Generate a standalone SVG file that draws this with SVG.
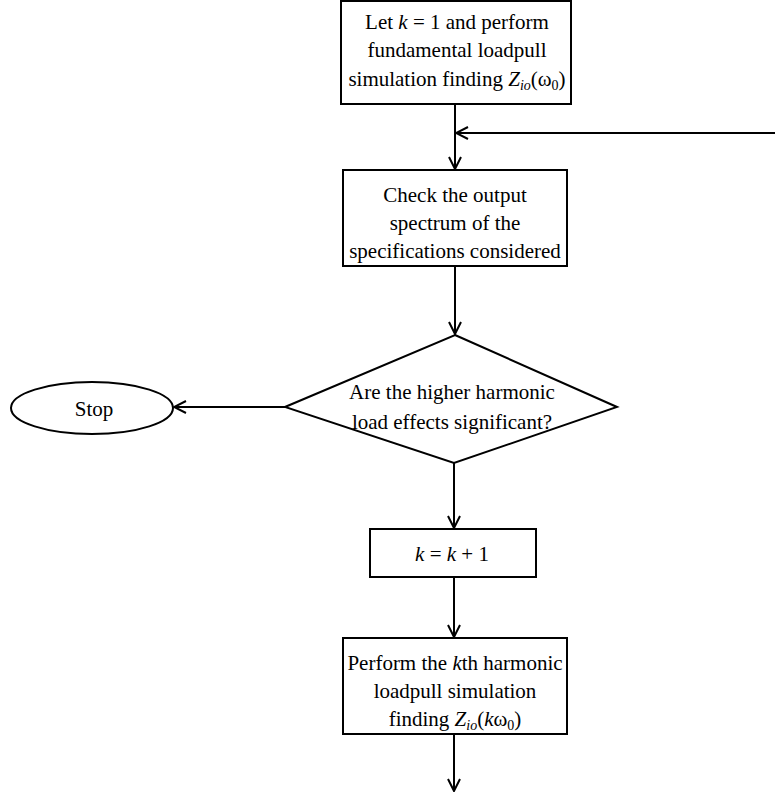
<svg xmlns="http://www.w3.org/2000/svg" width="775" height="794" viewBox="0 0 775 794">
<style>
.b{fill:#fff;stroke:#000;stroke-width:2}
.t{font-family:"Liberation Serif","Times New Roman",serif;font-size:21px;fill:#000;text-anchor:middle}
.i{font-style:italic}
.s{font-size:14px}
.c{fill:none;stroke:#000;stroke-width:2}
</style>
<defs>
<marker id="a" viewBox="0 0 14 14" refX="13" refY="7" markerWidth="14" markerHeight="14" markerUnits="userSpaceOnUse" orient="auto">
<path d="M1,1 L13,7 L1,13" fill="none" stroke="#000" stroke-width="2"/>
</marker>
</defs>
<g id="connectors">
<line class="c" x1="455" y1="104" x2="455" y2="169" marker-end="url(#a)"/>
<line class="c" x1="775" y1="133" x2="456" y2="133" marker-end="url(#a)"/>
<line class="c" x1="455" y1="266" x2="455" y2="334" marker-end="url(#a)"/>
<line class="c" x1="285" y1="407" x2="174" y2="407" marker-end="url(#a)"/>
<line class="c" x1="454" y1="463" x2="454" y2="528" marker-end="url(#a)"/>
<line class="c" x1="454" y1="577" x2="454" y2="637" marker-end="url(#a)"/>
<line class="c" x1="454" y1="734" x2="454" y2="791" marker-end="url(#a)"/>
</g>
<g id="start">
<rect class="b" x="341" y="1" width="230" height="103"/>
<text class="t" x="457" y="29">Let <tspan class="i">k</tspan> = 1 and perform</text>
<text class="t" x="457" y="57">fundamental loadpull</text>
<text class="t" x="457" y="86">simulation finding <tspan class="i">Z</tspan><tspan class="i s" dy="4">io</tspan><tspan dy="-4">(ω</tspan><tspan class="s" dy="4">0</tspan><tspan dy="-4">)</tspan></text>
</g>
<g id="check">
<rect class="b" x="343" y="170" width="224" height="96"/>
<text class="t" x="455" y="202">Check the output</text>
<text class="t" x="455" y="230">spectrum of the</text>
<text class="t" x="455" y="258">specifications considered</text>
</g>
<g id="decision">
<polygon class="b" points="455,335 617,407 454,463 285,407"/>
<text class="t" x="452" y="399">Are the higher harmonic</text>
<text class="t" x="452" y="429">load effects significant?</text>
</g>
<g id="stop">
<ellipse class="b" cx="92" cy="408" rx="81" ry="26"/>
<text class="t" x="94" y="416">Stop</text>
</g>
<g id="increment">
<rect class="b" x="370" y="529" width="166" height="48"/>
<text class="t" x="452" y="561"><tspan class="i">k</tspan> = <tspan class="i">k</tspan> + 1</text>
</g>
<g id="harmonic">
<rect class="b" x="343" y="638" width="224" height="96"/>
<text class="t" x="455" y="670">Perform the <tspan class="i">k</tspan>th harmonic</text>
<text class="t" x="455" y="698">loadpull simulation</text>
<text class="t" x="455" y="726">finding <tspan class="i">Z</tspan><tspan class="i s" dy="4">io</tspan><tspan dy="-4">(</tspan><tspan class="i">k</tspan>ω<tspan class="s" dy="4">0</tspan><tspan dy="-4">)</tspan></text>
</g>
</svg>
